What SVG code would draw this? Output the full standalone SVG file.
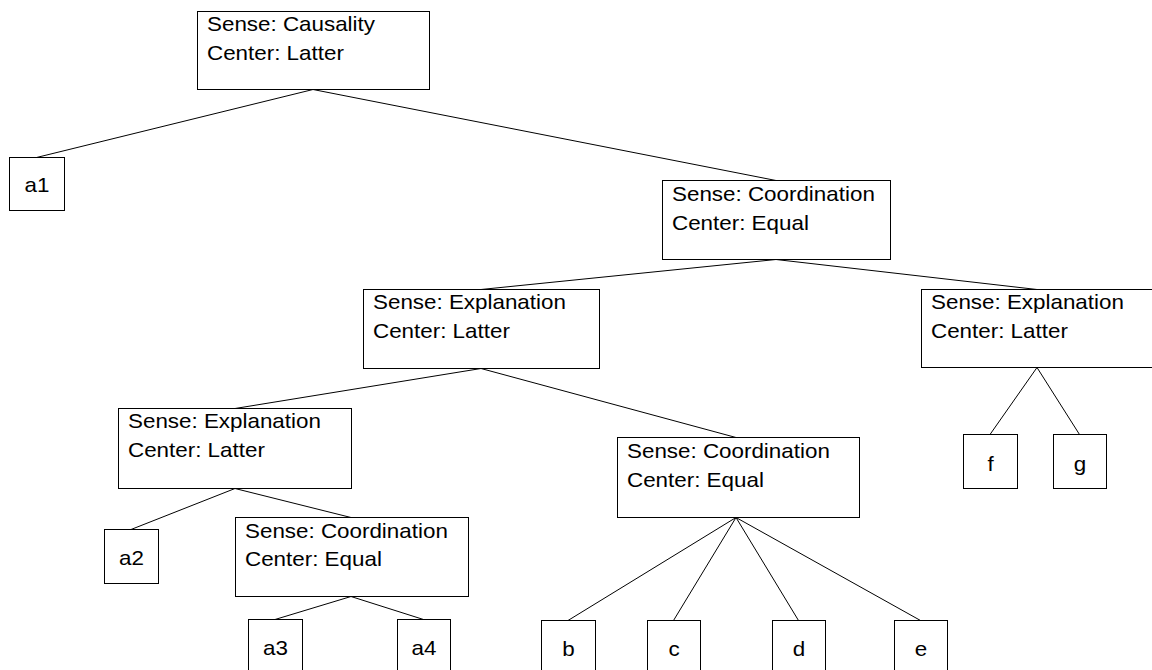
<svg xmlns="http://www.w3.org/2000/svg" width="1152" height="670" viewBox="0 0 1152 670">
  <style>
    .box { fill: #ffffff; stroke: #000000; stroke-width: 1; }
    .edge { stroke: #000000; stroke-width: 1; fill: none; }
    text { font-family: "Liberation Sans", Arial, sans-serif; font-size: 20px; fill: #000000; }
    .leaf { text-anchor: middle; }
  </style>
  <rect x="0" y="0" width="1152" height="670" fill="#ffffff"/>

  <!-- tree edges: parent bottom centre to child top centre -->
  <g id="connectors">
    <line class="edge" x1="313" y1="89.5" x2="36.5" y2="157.5"/>
    <line class="edge" x1="313" y1="89.5" x2="776" y2="180.5"/>
    <line class="edge" x1="776" y1="259.5" x2="481" y2="289.5"/>
    <line class="edge" x1="776" y1="259.5" x2="1037" y2="289.5"/>
    <line class="edge" x1="481" y1="368.5" x2="235" y2="408.5"/>
    <line class="edge" x1="481" y1="368.5" x2="736" y2="437.5"/>
    <line class="edge" x1="235" y1="488.5" x2="131" y2="529.5"/>
    <line class="edge" x1="235" y1="488.5" x2="351" y2="517.5"/>
    <line class="edge" x1="351" y1="596.5" x2="275" y2="619.5"/>
    <line class="edge" x1="351" y1="596.5" x2="423.5" y2="619.5"/>
    <line class="edge" x1="736" y1="517.5" x2="568" y2="620.5"/>
    <line class="edge" x1="736" y1="517.5" x2="673.5" y2="620.5"/>
    <line class="edge" x1="736" y1="517.5" x2="798.5" y2="620.5"/>
    <line class="edge" x1="736" y1="517.5" x2="920.5" y2="620.5"/>
    <line class="edge" x1="1037" y1="367.5" x2="990" y2="434.5"/>
    <line class="edge" x1="1037" y1="367.5" x2="1079.5" y2="434.5"/>
  </g>

  <!-- relation nodes -->
  <g id="root">
    <rect class="box" x="197.5" y="11.5" width="232" height="78"/>
    <text transform="translate(207,31) scale(1.12,1)">Sense: Causality</text>
    <text transform="translate(207,60) scale(1.12,1)">Center: Latter</text>
  </g>
  <g id="coord1">
    <rect class="box" x="662.5" y="180.5" width="228" height="79"/>
    <text transform="translate(672,201) scale(1.12,1)">Sense: Coordination</text>
    <text transform="translate(672,230) scale(1.12,1)">Center: Equal</text>
  </g>
  <g id="expl1">
    <rect class="box" x="363.5" y="289.5" width="236" height="79"/>
    <text transform="translate(373,309) scale(1.12,1)">Sense: Explanation</text>
    <text transform="translate(373,338) scale(1.12,1)">Center: Latter</text>
  </g>
  <g id="expl2">
    <rect class="box" x="921.5" y="289.5" width="232" height="78"/>
    <text transform="translate(931,309) scale(1.12,1)">Sense: Explanation</text>
    <text transform="translate(931,338) scale(1.12,1)">Center: Latter</text>
  </g>
  <g id="expl3">
    <rect class="box" x="118.5" y="408.5" width="233" height="80"/>
    <text transform="translate(128,428) scale(1.12,1)">Sense: Explanation</text>
    <text transform="translate(128,457) scale(1.12,1)">Center: Latter</text>
  </g>
  <g id="coord2">
    <rect class="box" x="617.5" y="437.5" width="242" height="80"/>
    <text transform="translate(627,458) scale(1.12,1)">Sense: Coordination</text>
    <text transform="translate(627,487) scale(1.12,1)">Center: Equal</text>
  </g>
  <g id="coord3">
    <rect class="box" x="235.5" y="517.5" width="233" height="79"/>
    <text transform="translate(245,538) scale(1.12,1)">Sense: Coordination</text>
    <text transform="translate(245,566) scale(1.12,1)">Center: Equal</text>
  </g>

  <!-- leaf nodes -->
  <g id="a1">
    <rect class="box" x="9.5" y="157.5" width="55" height="53"/>
    <text class="leaf" transform="translate(37,192) scale(1.12,1)">a1</text>
  </g>
  <g id="a2">
    <rect class="box" x="104.5" y="529.5" width="54" height="54"/>
    <text class="leaf" transform="translate(131.5,565) scale(1.12,1)">a2</text>
  </g>
  <g id="a3">
    <rect class="box" x="248.5" y="619.5" width="54" height="54"/>
    <text class="leaf" transform="translate(275.5,655) scale(1.12,1)">a3</text>
  </g>
  <g id="a4">
    <rect class="box" x="397.5" y="619.5" width="53" height="54"/>
    <text class="leaf" transform="translate(424,655) scale(1.12,1)">a4</text>
  </g>
  <g id="b">
    <rect class="box" x="541.5" y="620.5" width="54" height="54"/>
    <text class="leaf" transform="translate(568.5,656) scale(1.12,1)">b</text>
  </g>
  <g id="c">
    <rect class="box" x="647.5" y="620.5" width="53" height="54"/>
    <text class="leaf" transform="translate(674,656) scale(1.12,1)">c</text>
  </g>
  <g id="d">
    <rect class="box" x="772.5" y="620.5" width="53" height="54"/>
    <text class="leaf" transform="translate(799,656) scale(1.12,1)">d</text>
  </g>
  <g id="e">
    <rect class="box" x="894.5" y="620.5" width="53" height="54"/>
    <text class="leaf" transform="translate(921,656) scale(1.12,1)">e</text>
  </g>
  <g id="f">
    <rect class="box" x="963.5" y="434.5" width="54" height="54"/>
    <text class="leaf" transform="translate(990.5,471) scale(1.12,1)">f</text>
  </g>
  <g id="g">
    <rect class="box" x="1053.5" y="434.5" width="53" height="54"/>
    <text class="leaf" transform="translate(1080,471) scale(1.12,1)">g</text>
  </g>
</svg>
